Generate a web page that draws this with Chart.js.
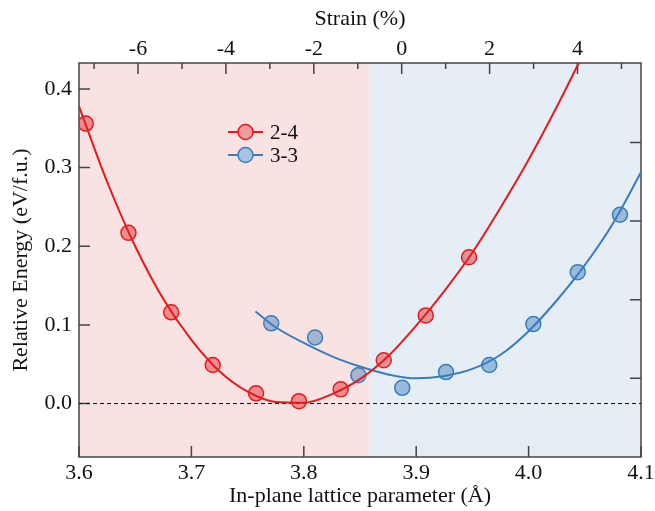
<!DOCTYPE html>
<html>
<head>
<meta charset="utf-8">
<script src="https://cdn.jsdelivr.net/npm/chart.js@4/dist/chart.umd.min.js"></script>
<style>
  html, body { margin: 0; padding: 0; background: #fff; overflow: hidden; }
  #wrap { width: 672px; height: 511px; }
</style>
</head>
<body>
<div id="wrap"><canvas id="energia"></canvas></div>
<script>
// ticks de los ejes
const latticeTicks = [3.6, 3.7, 3.8, 3.9, 4.0, 4.1];
const energyTicks = [0.0, 0.1, 0.2, 0.3, 0.4];
const rightTicks = [0.032, 0.132, 0.232, 0.332];
const strainTicks = [-7, -6, -5, -4, -3, -2, -1, 0, 1, 2, 3, 4, 5];
const strainLabels = ['', '-6', '', '-4', '', '-2', '', '0', '', '2', '', '4', ''];
const strainRange = [-7.343, 5.445];
const phaseSplit = 3.858;

// puntos calculados 2-4
const a24 = [3.606, 3.644, 3.682, 3.719, 3.7575, 3.7957, 3.8328, 3.8711, 3.9085, 3.947];
const e24 = [0.356, 0.217, 0.116, 0.049, 0.013, 0.003, 0.018, 0.055, 0.112, 0.186];
// ajuste 2-4
const fitA24 = [3.600, 3.625, 3.650, 3.675, 3.700, 3.725, 3.750, 3.775, 3.800, 3.825, 3.850, 3.875, 3.900, 3.925, 3.950, 3.975, 4.000, 4.025, 4.045];
const fitE24 = [0.378, 0.282, 0.200, 0.133, 0.081, 0.041, 0.015, 0.002, 0.001, 0.012, 0.031, 0.060, 0.099, 0.143, 0.192, 0.249, 0.310, 0.377, 0.434];

// puntos calculados 3-3
const a33 = [3.771, 3.810, 3.8485, 3.8876, 3.9265, 3.965, 4.0042, 4.0437, 4.0813];
const e33 = [0.102, 0.084, 0.036, 0.020, 0.040, 0.049, 0.101, 0.167, 0.240];
// ajuste 3-3
const fitA33 = [3.757, 3.775, 3.800, 3.825, 3.850, 3.875, 3.900, 3.925, 3.950, 3.975, 4.000, 4.025, 4.050, 4.075, 4.100];
const fitE33 = [0.117, 0.097, 0.077, 0.060, 0.047, 0.037, 0.032, 0.035, 0.044, 0.062, 0.092, 0.131, 0.176, 0.229, 0.294];

const RED = '#e41a1c';
const RED_FILL = 'rgba(228, 30, 35, 0.45)';
const BLUE = '#3a7dbd';
const BLUE_FILL = 'rgba(58, 125, 189, 0.45)';
const FRAME = '#444';
const FONT = "'Liberation Serif', 'Times New Roman', serif";

const pts = (xs, ys) => xs.map((x, i) => ({ x: x, y: ys[i] }));

Chart.defaults.font.family = FONT;
Chart.defaults.font.size = 22;
Chart.defaults.color = '#111';

/**
 * fondo de fases, marcos, ticks hacia adentro y leyenda
 */
const decor = {
    id: 'decor',
    beforeDatasetsDraw(chart) {
        const { ctx, chartArea: ca, scales } = chart;
        const split = scales.x.getPixelForValue(phaseSplit);
        ctx.save();
        ctx.fillStyle = '#f9e2e2';
        ctx.fillRect(ca.left, ca.top, split - ca.left, ca.bottom - ca.top);
        ctx.fillStyle = '#e5edf5';
        ctx.fillRect(split, ca.top, ca.right - split, ca.bottom - ca.top);

        ctx.strokeStyle = FRAME;
        ctx.lineWidth = 1.5;
        ctx.beginPath();
        // eje inferior
        latticeTicks.forEach(v => {
            const px = scales.x.getPixelForValue(v);
            ctx.moveTo(px, ca.bottom); ctx.lineTo(px, ca.bottom - 11);
        });
        // eje superior (mayores y menores)
        strainTicks.forEach((v, i) => {
            const px = scales.x2.getPixelForValue(v);
            const len = strainLabels[i] === '' ? 6 : 11;
            ctx.moveTo(px, ca.top); ctx.lineTo(px, ca.top + len);
        });
        // eje izquierdo
        energyTicks.forEach(v => {
            const py = scales.y.getPixelForValue(v);
            ctx.moveTo(ca.left, py); ctx.lineTo(ca.left + 11, py);
        });
        // eje derecho
        rightTicks.forEach(v => {
            const py = scales.y.getPixelForValue(v);
            ctx.moveTo(ca.right, py); ctx.lineTo(ca.right - 11, py);
        });
        ctx.stroke();
        ctx.strokeRect(ca.left, ca.top, ca.right - ca.left, ca.bottom - ca.top);
        ctx.restore();
    },
    afterDatasetsDraw(chart) {
        const { ctx, chartArea: ca } = chart;
        const items = [
            { label: '2-4', line: RED, fill: RED_FILL },
            { label: '3-3', line: BLUE, fill: BLUE_FILL }
        ];
        ctx.save();
        items.forEach((it, i) => {
            const y = ca.top + 69 + i * 23;
            const x0 = ca.left + 149;
            ctx.strokeStyle = it.line;
            ctx.lineWidth = 2;
            ctx.beginPath();
            ctx.moveTo(x0, y); ctx.lineTo(x0 + 35, y);
            ctx.stroke();
            ctx.beginPath();
            ctx.arc(x0 + 17.5, y, 7.5, 0, Math.PI * 2);
            ctx.fillStyle = '#fff';
            ctx.fill();
            ctx.fillStyle = it.fill;
            ctx.fill();
            ctx.lineWidth = 1.5;
            ctx.stroke();
            ctx.fillStyle = '#111';
            ctx.font = '21px ' + FONT;
            ctx.textBaseline = 'middle';
            ctx.textAlign = 'left';
            ctx.fillText(it.label, x0 + 42, y + 1);
        });
        ctx.restore();
    }
};

const element = document.getElementById('energia').getContext('2d');
const graph = new Chart(element, {
    type: 'scatter',
    data: {
        datasets: [
            {
                label: '2-4',
                data: pts(a24, e24),
                pointRadius: 7.5,
                pointBackgroundColor: RED_FILL,
                pointBorderColor: RED,
                pointBorderWidth: 1.5,
                showLine: false
            },
            {
                label: '2-4 ajuste',
                data: pts(fitA24, fitE24),
                showLine: true,
                borderColor: RED,
                borderWidth: 2,
                pointRadius: 0,
                cubicInterpolationMode: 'monotone'
            },
            {
                label: '3-3',
                data: pts(a33, e33),
                pointRadius: 7.5,
                pointBackgroundColor: BLUE_FILL,
                pointBorderColor: BLUE,
                pointBorderWidth: 1.5,
                showLine: false
            },
            {
                label: '3-3 ajuste',
                data: pts(fitA33, fitE33),
                showLine: true,
                borderColor: BLUE,
                borderWidth: 2,
                pointRadius: 0,
                cubicInterpolationMode: 'monotone'
            },
            {
                label: 'cero',
                data: pts([latticeTicks[0], latticeTicks[latticeTicks.length - 1]], [0, 0]),
                showLine: true,
                borderColor: '#111',
                borderWidth: 1,
                borderDash: [4, 3],
                pointRadius: 0
            }
        ]
    },
    options: {
        responsive: true,
        maintainAspectRatio: false,
        animation: false,
        // el lienzo es más ancho que la ventana: la etiqueta 4.1 queda cortada en el borde
        layout: { padding: { left: 0, right: 31, top: 0, bottom: 0 } },
        plugins: {
            legend: { display: false },
            tooltip: { enabled: false }
        },
        scales: {
            x: {
                type: 'linear',
                position: 'bottom',
                min: 3.6,
                max: 4.1,
                afterBuildTicks: s => { s.ticks = latticeTicks.map(v => ({ value: v })); },
                afterFit: s => { s.height = 54; },
                ticks: { padding: 3, maxRotation: 0, callback: v => v.toFixed(1) },
                grid: { display: false, drawTicks: false },
                border: { display: false },
                title: { display: true, text: 'In-plane lattice parameter (Å)', padding: { top: 0, bottom: 2 } }
            },
            x2: {
                type: 'linear',
                position: 'top',
                min: strainRange[0],
                max: strainRange[1],
                afterBuildTicks: s => { s.ticks = strainTicks.map(v => ({ value: v })); },
                afterFit: s => { s.height = 63; },
                ticks: { padding: 1, maxRotation: 0, autoSkip: false, callback: (v, i) => strainLabels[i] },
                grid: { display: false, drawTicks: false },
                border: { display: false },
                title: { display: true, text: 'Strain (%)', padding: { top: 6, bottom: 0 } }
            },
            y: {
                type: 'linear',
                position: 'left',
                min: -0.068,
                max: 0.433,
                afterBuildTicks: s => { s.ticks = energyTicks.map(v => ({ value: v })); },
                afterFit: s => { s.width = 79; },
                ticks: { padding: 7, callback: v => v.toFixed(1) },
                grid: { display: false, drawTicks: false },
                border: { display: false },
                title: { display: true, text: 'Relative Energy (eV/f.u.)', padding: { top: 8, bottom: 0 } }
            }
        }
    },
    plugins: [decor]
});
</script>
</body>
</html>
